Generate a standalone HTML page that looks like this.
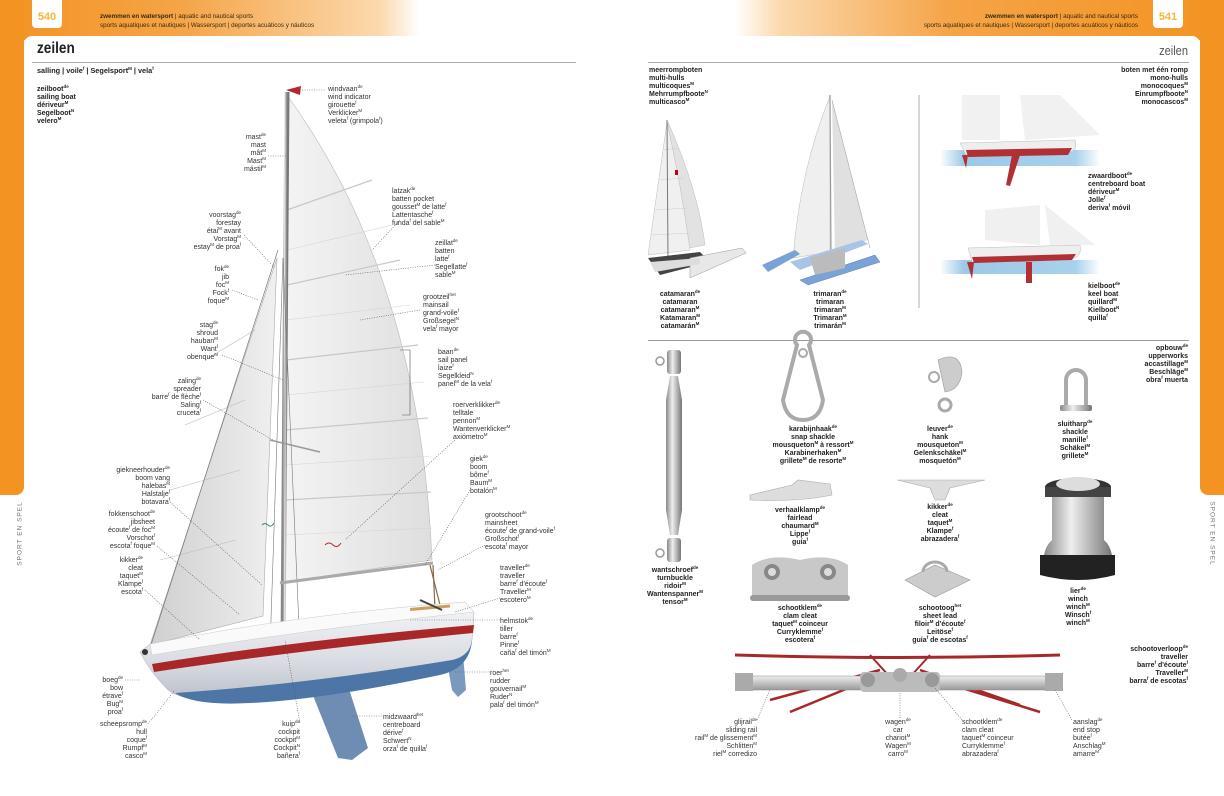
<!DOCTYPE html>
<html><head><meta charset="utf-8">
<style>
*{margin:0;padding:0;box-sizing:border-box}
body{width:1224px;height:783px;position:relative;overflow:hidden;background:#fff;font-family:"Liberation Sans",Arial,sans-serif;color:#333}
.band{position:absolute;left:0;top:0;width:1224px;height:40px;background:linear-gradient(90deg,#f39322 0,#f5a447 180px,#fbd9ad 380px,#fff 420px,#fff 735px,#fbd9ad 780px,#f5a447 950px,#f39322 1224px)}
.side{position:absolute;top:0;width:24px;height:495px;background:#f39322}
.page{position:absolute;left:24px;top:36px;width:1176px;height:760px;background:#fff;border-radius:8px 8px 0 0}
.pn{position:absolute;top:0;width:30px;height:28px;background:#fff;border-radius:0 0 4px 4px;color:#f7b43a;font-weight:bold;font-size:11px;text-align:center;padding-top:11px}
.hd{position:absolute;top:13px;font-size:6.3px;line-height:8.5px;color:#3a2a10}
.l{position:absolute;font-size:7px;line-height:7.9px;color:#333;white-space:nowrap}
.b{font-weight:bold;color:#222}
.r{text-align:right}
.c{text-align:center}
sup{font-size:4.5px;vertical-align:3px;line-height:0}
.vt{position:absolute;font-size:6.5px;color:#777;letter-spacing:1px;white-space:nowrap}
</style></head><body>
<div class="band"></div>
<div class="side" style="left:0;border-radius:0 0 8px 0"></div>
<div class="side" style="left:1200px;border-radius:0 0 0 8px"></div>
<div class="page"></div>
<div class="pn" style="left:32px">540</div>
<div class="pn" style="left:1153px">541</div>
<div class="hd" style="left:100px"><b>zwemmen en watersport</b> | aquatic and nautical sports<br>sports aquatiques et nautiques | Wassersport | deportes acuáticos y náuticos</div>
<div class="hd r" style="right:86px"><b>zwemmen en watersport</b> | aquatic and nautical sports<br>sports aquatiques et nautiques | Wassersport | deportes acuáticos y náuticos</div>
<div class="vt" style="left:-12px;top:530px;transform:rotate(-90deg)">SPORT EN SPEL</div>
<div class="vt" style="left:1180px;top:530px;transform:rotate(90deg)">SPORT EN SPEL</div>

<div style="position:absolute;left:37px;top:40px;font-size:16px;font-weight:bold;color:#222;transform:scaleX(.85);transform-origin:left">zeilen</div>
<div style="position:absolute;right:36px;top:43px;font-size:13px;color:#555;transform:scaleX(.85);transform-origin:right">zeilen</div>
<div style="position:absolute;left:32px;top:62px;width:544px;height:1px;background:#aaa"></div>
<div style="position:absolute;left:648px;top:62px;width:541px;height:1px;background:#aaa"></div>
<div class="l b" style="left:37px;top:67px;font-size:7.3px">salling | voile<sup>f</sup> | Segelsport<sup>M</sup> | vela<sup>f</sup></div>

<svg width="1224" height="783" style="position:absolute;left:0;top:0" xmlns="http://www.w3.org/2000/svg">
<defs>
<linearGradient id="sail" x1="0" x2="1"><stop offset="0" stop-color="#f4f4f4"/><stop offset="1" stop-color="#dedede"/></linearGradient>
<linearGradient id="jib" x1="0" x2="1"><stop offset="0" stop-color="#cfcfcf"/><stop offset="1" stop-color="#f0f0f0"/></linearGradient>
<linearGradient id="hull" x1="0" y1="0" x2="0" y2="1"><stop offset="0" stop-color="#f5f6f8"/><stop offset=".6" stop-color="#d9dce2"/><stop offset="1" stop-color="#b8bec8"/></linearGradient>
<linearGradient id="met" x1="0" x2="1"><stop offset="0" stop-color="#888"/><stop offset=".4" stop-color="#eee"/><stop offset="1" stop-color="#777"/></linearGradient>
<linearGradient id="metv" x1="0" y1="0" x2="0" y2="1"><stop offset="0" stop-color="#eee"/><stop offset="1" stop-color="#999"/></linearGradient>
<linearGradient id="water" x1="0" x2="1"><stop offset="0" stop-color="#9cc8e8" stop-opacity="0"/><stop offset=".15" stop-color="#9cc8e8"/><stop offset=".85" stop-color="#a9d1ee"/><stop offset="1" stop-color="#a9d1ee" stop-opacity="0"/></linearGradient>
</defs>
<!-- main sail -->
<path d="M289 98 Q420 280 432 560 L284 582 Z" fill="url(#sail)" stroke="#bbb" stroke-width=".6"/>
<g stroke="#c8c8c8" stroke-width="1.2">
<line x1="287" y1="210" x2="372" y2="180"/><line x1="287" y1="285" x2="400" y2="260"/><line x1="286" y1="360" x2="418" y2="345"/><line x1="285" y1="430" x2="428" y2="418"/><line x1="285" y1="500" x2="431" y2="492"/>
</g>
<g stroke="#d4d4d4" stroke-width=".6">
<line x1="287" y1="250" x2="392" y2="225"/><line x1="286" y1="320" x2="410" y2="305"/><line x1="286" y1="395" x2="424" y2="382"/><line x1="285" y1="465" x2="430" y2="456"/><line x1="284" y1="535" x2="432" y2="528"/>
</g>
<!-- jib -->
<path d="M277 258 L150 645 L263 616 Z" fill="url(#jib)" stroke="#aaa" stroke-width=".6"/>
<g stroke="#bbb" stroke-width=".6"><line x1="255" y1="330" x2="205" y2="360"/><line x1="245" y1="400" x2="185" y2="425"/><line x1="240" y1="470" x2="170" y2="490"/><line x1="236" y1="540" x2="160" y2="560"/></g>
<!-- mast & rigging -->
<line x1="287" y1="92" x2="283" y2="645" stroke="url(#met)" stroke-width="5"/>
<line x1="287" y1="92" x2="283" y2="645" stroke="#999" stroke-width=".6"/>
<path d="M286 90 L301 86 L300 95 Z" fill="#b8262a"/>
<line x1="278" y1="250" x2="150" y2="648" stroke="#777" stroke-width=".7"/>
<line x1="283" y1="258" x2="270" y2="650" stroke="#777" stroke-width=".6"/>
<line x1="283" y1="258" x2="300" y2="650" stroke="#777" stroke-width=".6"/>
<line x1="270" y1="440" x2="320" y2="452" stroke="#999" stroke-width="1.5"/>
<line x1="280" y1="583" x2="433" y2="563" stroke="#aaa" stroke-width="3"/>
<line x1="430" y1="565" x2="445" y2="625" stroke="#8a6a45" stroke-width="1.2"/>
<line x1="433" y1="565" x2="436" y2="630" stroke="#8a6a45" stroke-width="1.2"/>
<path d="M325 545 q4 -4 8 0 q4 4 8 -2" stroke="#b8262a" fill="none" stroke-width="1"/>
<path d="M262 525 q3 -3 6 0 q3 3 6 -2" stroke="#3a8a5a" fill="none" stroke-width="1"/>
<!-- hull -->
<path d="M310 688 L348 686 L368 748 L352 760 L338 758 Z" fill="#6f8db3"/>
<path d="M444 645 L462 642 L466 690 L458 697 L452 690 Z" fill="#7b98bd"/>
<path d="M140 652 L150 644 Q300 615 465 602 L474 612 L472 640 Q470 660 450 662 Q330 690 260 700 Q190 706 168 690 Q150 672 140 652 Z" fill="url(#hull)" stroke="#aab" stroke-width=".5"/>
<path d="M150 644 Q300 614 465 602 L474 612 Q300 630 152 655 Z" fill="#fafafa" stroke="#ccc" stroke-width=".5"/>
<path d="M152 664 Q300 640 474 625 L473 633 Q300 650 154 672 Z" fill="#a8282a"/>
<path d="M175 693 Q300 685 452 660 Q470 656 472 640 Q470 668 440 675 Q320 700 250 703 Q195 706 175 693 Z" fill="#4d75a6"/>
<rect x="410" y="608" width="40" height="3" fill="#c8a060" transform="rotate(-5 410 608)"/>
<path d="M420 600 l22 10" stroke="#444" stroke-width="2"/>
<circle cx="145" cy="652" r="3" fill="#333"/>
<!-- leader lines -->
<g stroke="#555" stroke-width=".6" stroke-dasharray="1 1.4" fill="none">
<line x1="302" y1="90" x2="326" y2="90"/>
<line x1="268" y1="156" x2="287" y2="156"/>
<line x1="400" y1="220" x2="372" y2="250"/>
<line x1="244" y1="235" x2="275" y2="268"/>
<line x1="435" y1="265" x2="345" y2="275"/>
<line x1="232" y1="290" x2="258" y2="300"/>
<line x1="420" y1="310" x2="360" y2="320"/>
<line x1="222" y1="355" x2="283" y2="380"/>
<line x1="203" y1="400" x2="273" y2="440"/>
<line x1="455" y1="440" x2="345" y2="540"/>
<line x1="170" y1="502" x2="262" y2="585"/>
<line x1="470" y1="490" x2="425" y2="565"/>
<line x1="157" y1="546" x2="240" y2="615"/>
<line x1="485" y1="545" x2="438" y2="570"/>
<line x1="145" y1="590" x2="200" y2="640"/>
<line x1="500" y1="598" x2="455" y2="612"/>
<line x1="410" y1="620" x2="500" y2="620"/>
<line x1="125" y1="680" x2="140" y2="680"/>
<line x1="455" y1="672" x2="490" y2="672"/>
<line x1="148" y1="724" x2="175" y2="690"/>
<line x1="300" y1="723" x2="285" y2="640"/>
<line x1="352" y1="716" x2="382" y2="716"/>
<path d="M400 350 L410 350 L410 415 L402 415" stroke-dasharray="none"/>
</g>

<!-- catamaran -->
<path d="M668 122 Q698 190 705 245 L668 252 Z" fill="#e2e2e2" stroke="#bbb" stroke-width=".5"/>
<path d="M667 122 L648 255 L690 250 Q682 190 667 122Z" fill="#f0f0f0" stroke="#bbb" stroke-width=".5"/>
<g stroke="#ccc" stroke-width=".5"><line x1="664" y1="150" x2="678" y2="148"/><line x1="660" y1="180" x2="683" y2="178"/><line x1="656" y1="210" x2="687" y2="208"/><line x1="652" y1="235" x2="690" y2="233"/></g>
<line x1="667" y1="120" x2="668" y2="258" stroke="#777" stroke-width="1"/>
<path d="M648 258 L700 252 L710 262 L660 275Z" fill="#444"/>
<path d="M690 258 L742 248 L746 253 L690 278 Z" fill="#e8e8e8" stroke="#999" stroke-width=".5"/>
<path d="M650 262 L700 258 L700 264 L655 272Z" fill="#ddd"/>
<rect x="675" y="170" width="3" height="5" fill="#b02"/>
<!-- trimaran -->
<path d="M830 96 Q800 170 793 258 L830 252 Z" fill="#efefef" stroke="#bbb" stroke-width=".5"/>
<path d="M832 100 L868 240 L835 252 Z" fill="#e0e0e0"/>
<line x1="830" y1="95" x2="831" y2="258" stroke="#999" stroke-width="1.2"/>
<line x1="832" y1="100" x2="870" y2="248" stroke="#999" stroke-width=".5"/>
<path d="M762 265 L795 250 L800 254 L768 272Z" fill="#7aa2d6"/>
<path d="M800 280 L875 255 L880 262 L808 285 Z" fill="#7aa2d6" stroke="#5b82b8" stroke-width=".5"/>
<path d="M790 262 L862 240 L868 244 L800 270 Z" fill="#a9c4e6"/>
<path d="M810 258 L845 248 L845 268 L815 275 Z" fill="#bbb"/>
<line x1="919" y1="95" x2="919" y2="308" stroke="#999" stroke-width=".8"/>
<!-- monohulls -->
<rect x="940" y="150" width="160" height="16" fill="url(#water)"/>
<path d="M962 95 L1000 95 L1000 140 L962 140Z M1020 95 L1060 95 L1100 135 L1025 140Z" fill="#eee" opacity=".8"/>
<path d="M960 143 L1075 140 Q1078 150 1070 152 L966 155 Z" fill="#eee" stroke="#bbb" stroke-width=".5"/>
<path d="M966 150 L1072 148 L1068 155 L968 157Z" fill="#b03034"/>
<path d="M962 155 L968 155 L966 168 Z M1012 155 L1020 155 L1010 186 L1006 185 Z" fill="#b03034"/>
<rect x="940" y="260" width="160" height="14" fill="url(#water)"/>
<path d="M985 210 L1040 205 L1040 245 L985 240Z M1045 205 L1095 245 L1050 245Z" fill="#eee" opacity=".9"/>
<path d="M968 248 L1080 245 Q1082 255 1075 258 L972 262 Z" fill="#eee" stroke="#bbb" stroke-width=".5"/>
<path d="M972 257 L1076 254 L1072 260 L974 263Z" fill="#b03034"/>
<path d="M1026 262 L1032 262 L1032 283 L1026 283 Z M967 262 L974 262 L972 279 Z" fill="#b03034"/>
<rect x="648" y="340" width="541" height="1" fill="#999"/>
<!-- turnbuckle -->
<circle cx="660" cy="361" r="4" fill="none" stroke="#999" stroke-width="1.5"/>
<rect x="667" y="350" width="14" height="24" rx="3" fill="url(#met)"/>
<path d="M670 376 L678 376 L682 400 L682 510 L678 535 L670 535 L666 510 L666 400Z" fill="url(#met)"/>
<rect x="667" y="538" width="14" height="24" rx="3" fill="url(#met)"/>
<circle cx="660" cy="553" r="4" fill="none" stroke="#999" stroke-width="1.5"/>
<!-- karabiner -->
<path d="M797 345 a8 8 0 1 1 12 0 L823 400 Q820 420 803 420 Q786 420 783 400 Z" fill="none" stroke="#aaa" stroke-width="4"/>
<circle cx="803" cy="353" r="4" fill="#fff" stroke="#aaa" stroke-width="2"/>
<!-- hank -->
<circle cx="934" cy="377" r="5" fill="none" stroke="#aaa" stroke-width="2"/>
<path d="M938 360 Q960 350 962 372 Q960 390 945 392 Z" fill="#ccc" stroke="#999" stroke-width=".6"/>
<circle cx="945" cy="405" r="6" fill="none" stroke="#aaa" stroke-width="3"/>
<!-- shackle -->
<path d="M1066 405 L1066 380 a10 10 0 0 1 20 0 L1086 405" fill="none" stroke="#aaa" stroke-width="4"/>
<rect x="1060" y="405" width="32" height="6" rx="2" fill="url(#met)"/>
<!-- fairlead -->
<path d="M750 495 L792 485 L798 480 L830 484 L832 495 Q800 502 750 500Z" fill="#ddd" stroke="#aaa" stroke-width=".6"/>
<!-- cleat -->
<path d="M897 480 L985 480 L950 488 L945 500 L935 500 L930 488Z" fill="#ddd" stroke="#aaa" stroke-width=".6"/>
<!-- clam cleat -->
<path d="M752 565 Q770 553 800 560 Q830 553 848 565 L848 595 Q800 602 752 595Z" fill="#c8c8c8"/>
<rect x="750" y="595" width="100" height="6" rx="3" fill="#999"/>
<circle cx="772" cy="572" r="8" fill="#888"/><circle cx="772" cy="572" r="4" fill="#ddd"/>
<circle cx="828" cy="572" r="8" fill="#888"/><circle cx="828" cy="572" r="4" fill="#ddd"/>
<!-- sheet lead -->
<path d="M905 580 L935 565 L970 580 L935 597Z" fill="#ccc" stroke="#999" stroke-width=".6"/>
<path d="M923 572 a12 10 0 0 1 24 0" fill="none" stroke="#aaa" stroke-width="3"/>
<!-- winch -->
<ellipse cx="1078" cy="487" rx="33" ry="9" fill="#333"/>
<rect x="1045" y="487" width="66" height="10" fill="#444"/>
<ellipse cx="1078" cy="484" rx="22" ry="7" fill="#ddd"/>
<path d="M1052 497 L1104 497 L1104 540 Q1110 545 1112 555 L1044 555 Q1046 545 1052 540Z" fill="url(#met)"/>
<path d="M1040 555 L1115 555 L1115 575 Q1078 585 1040 575Z" fill="#222"/>
<!-- traveller -->
<path d="M735 655 Q900 660 1060 655" stroke="#a8282a" stroke-width="3" fill="none"/>
<path d="M770 700 L880 670 M790 712 L880 675 M920 670 L1020 705 M920 675 L1040 712" stroke="#a8282a" stroke-width="2.5"/>
<path d="M870 655 L900 688 M930 655 L900 688" stroke="#a8282a" stroke-width="2"/>
<rect x="737" y="676" width="325" height="14" fill="url(#metv)" stroke="#888" stroke-width=".5"/>
<rect x="735" y="673" width="18" height="18" fill="#aaa"/><rect x="1045" y="673" width="18" height="18" fill="#aaa"/>
<rect x="860" y="672" width="80" height="20" rx="4" fill="#bbb"/>
<circle cx="868" cy="680" r="7" fill="#999"/><circle cx="932" cy="680" r="7" fill="#999"/><circle cx="900" cy="675" r="7" fill="#aaa"/>
<g stroke="#555" stroke-width=".6" stroke-dasharray="1 1.4">
<line x1="757" y1="720" x2="770" y2="690"/><line x1="900" y1="718" x2="900" y2="692"/><line x1="962" y1="720" x2="935" y2="688"/><line x1="1072" y1="720" x2="1055" y2="690"/>
</g>
</svg>

<div class="l b" style="left:37px;top:86px">zeilboot<sup>de</sup><br>sailing boat<br>dériveur<sup>M</sup><br>Segelboot<sup>N</sup><br>velero<sup>M</sup></div>
<div class="l" style="left:328px;top:86px">windvaan<sup>de</sup><br>wind indicator<br>girouette<sup>f</sup><br>Verklicker<sup>M</sup><br>veleta<sup>f</sup> (grimpola<sup>f</sup>)</div>
<div class="l r" style="right:958px;top:134px">mast<sup>de</sup><br>mast<br>mât<sup>M</sup><br>Mast<sup>M</sup><br>mástil<sup>M</sup></div>
<div class="l" style="left:392px;top:188px">latzak<sup>de</sup><br>batten pocket<br>gousset<sup>M</sup> de latte<sup>f</sup><br>Lattentasche<sup>f</sup><br>funda<sup>f</sup> del sable<sup>M</sup></div>
<div class="l r" style="right:983px;top:212px">voorstag<sup>de</sup><br>forestay<br>étai<sup>M</sup> avant<br>Vorstag<sup>M</sup><br>estay<sup>M</sup> de proa<sup>f</sup></div>
<div class="l" style="left:435px;top:240px">zeillat<sup>de</sup><br>batten<br>latte<sup>f</sup><br>Segellatte<sup>f</sup><br>sable<sup>M</sup></div>
<div class="l r" style="right:995px;top:266px">fok<sup>de</sup><br>jib<br>foc<sup>M</sup><br>Fock<sup>f</sup><br>foque<sup>M</sup></div>
<div class="l" style="left:423px;top:294px">grootzeil<sup>het</sup><br>mainsail<br>grand-voile<sup>f</sup><br>Großsegel<sup>N</sup><br>vela<sup>f</sup> mayor</div>
<div class="l r" style="right:1006px;top:322px">stag<sup>de</sup><br>shroud<br>hauban<sup>M</sup><br>Want<sup>f</sup><br>obenque<sup>M</sup></div>
<div class="l" style="left:438px;top:349px">baan<sup>de</sup><br>sail panel<br>laize<sup>f</sup><br>Segelkleid<sup>N</sup><br>panel<sup>M</sup> de la vela<sup>f</sup></div>
<div class="l r" style="right:1023px;top:378px">zaling<sup>de</sup><br>spreader<br>barre<sup>f</sup> de flèche<sup>f</sup><br>Saling<sup>f</sup><br>cruceta<sup>f</sup></div>
<div class="l" style="left:453px;top:402px">roerverklikker<sup>de</sup><br>telltale<br>pennon<sup>M</sup><br>Wantenverklicker<sup>M</sup><br>axiómetro<sup>M</sup></div>
<div class="l r" style="right:1054px;top:467px">giekneerhouder<sup>de</sup><br>boom vang<br>halebas<sup>M</sup><br>Halstalje<sup>f</sup><br>botavara<sup>f</sup></div>
<div class="l" style="left:470px;top:456px">giek<sup>de</sup><br>boom<br>bôme<sup>f</sup><br>Baum<sup>M</sup><br>botalón<sup>M</sup></div>
<div class="l r" style="right:1069px;top:511px">fokkenschoot<sup>de</sup><br>jibsheet<br>écoute<sup>f</sup> de foc<sup>M</sup><br>Vorschot<sup>f</sup><br>escota<sup>f</sup> foque<sup>M</sup></div>
<div class="l" style="left:485px;top:512px">grootschoot<sup>de</sup><br>mainsheet<br>écoute<sup>f</sup> de grand-voile<sup>f</sup><br>Großschot<sup>f</sup><br>escota<sup>f</sup> mayor</div>
<div class="l r" style="right:1081px;top:557px">kikker<sup>de</sup><br>cleat<br>taquet<sup>M</sup><br>Klampe<sup>f</sup><br>escota<sup>f</sup></div>
<div class="l" style="left:500px;top:565px">traveller<sup>de</sup><br>traveller<br>barre<sup>f</sup> d'écoute<sup>f</sup><br>Traveller<sup>M</sup><br>escotero<sup>M</sup></div>
<div class="l" style="left:500px;top:618px">helmstok<sup>de</sup><br>tiller<br>barre<sup>f</sup><br>Pinne<sup>f</sup><br>caña<sup>f</sup> del timón<sup>M</sup></div>
<div class="l r" style="right:1101px;top:677px">boeg<sup>de</sup><br>bow<br>étrave<sup>f</sup><br>Bug<sup>M</sup><br>proa<sup>f</sup></div>
<div class="l" style="left:490px;top:670px">roer<sup>het</sup><br>rudder<br>gouvernail<sup>M</sup><br>Ruder<sup>N</sup><br>pala<sup>f</sup> del timón<sup>M</sup></div>
<div class="l r" style="right:1077px;top:721px">scheepsromp<sup>de</sup><br>hull<br>coque<sup>f</sup><br>Rumpf<sup>M</sup><br>casco<sup>M</sup></div>
<div class="l r" style="right:924px;top:721px">kuip<sup>de</sup><br>cockpit<br>cockpit<sup>M</sup><br>Cockpit<sup>N</sup><br>bañera<sup>f</sup></div>
<div class="l" style="left:383px;top:714px">midzwaard<sup>het</sup><br>centreboard<br>dérive<sup>f</sup><br>Schwert<sup>N</sup><br>orza<sup>f</sup> de quilla<sup>f</sup></div>

<div class="l b" style="left:649px;top:67px">meerrompboten<br>multi-hulls<br>multicoques<sup>M</sup><br>Mehrrumpfboote<sup>N</sup><br>multicasco<sup>M</sup></div>
<div class="l b r" style="right:36px;top:67px">boten met één romp<br>mono-hulls<br>monocoques<sup>M</sup><br>Einrumpfboote<sup>N</sup><br>monocascos<sup>M</sup></div>
<div class="l b c" style="left:645px;width:70px;top:291px">catamaran<sup>de</sup><br>catamaran<br>catamaran<sup>M</sup><br>Katamaran<sup>M</sup><br>catamarán<sup>M</sup></div>
<div class="l b c" style="left:795px;width:70px;top:291px">trimaran<sup>de</sup><br>trimaran<br>trimaran<sup>M</sup><br>Trimaran<sup>M</sup><br>trimarán<sup>M</sup></div>
<div class="l b" style="left:1088px;top:173px">zwaardboot<sup>de</sup><br>centreboard boat<br>dériveur<sup>M</sup><br>Jolle<sup>f</sup><br>deriva<sup>f</sup> móvil</div>
<div class="l b" style="left:1088px;top:283px">kielboot<sup>de</sup><br>keel boat<br>quillard<sup>M</sup><br>Kielboot<sup>N</sup><br>quilla<sup>f</sup></div>
<div class="l b r" style="right:36px;top:345px">opbouw<sup>de</sup><br>upperworks<br>accastillage<sup>M</sup><br>Beschläge<sup>M</sup><br>obra<sup>f</sup> muerta</div>
<div class="l b c" style="left:635px;width:80px;top:567px">wantschroef<sup>de</sup><br>turnbuckle<br>ridoir<sup>M</sup><br>Wantenspanner<sup>M</sup><br>tensor<sup>M</sup></div>
<div class="l b c" style="left:753px;width:120px;top:426px">karabijnhaak<sup>de</sup><br>snap shackle<br>mousqueton<sup>M</sup> à ressort<sup>M</sup><br>Karabinerhaken<sup>M</sup><br>grillete<sup>M</sup> de resorte<sup>M</sup></div>
<div class="l b c" style="left:895px;width:90px;top:426px">leuver<sup>de</sup><br>hank<br>mousqueton<sup>M</sup><br>Gelenkschäkel<sup>M</sup><br>mosquetón<sup>M</sup></div>
<div class="l b c" style="left:1040px;width:70px;top:421px">sluitharp<sup>de</sup><br>shackle<br>manille<sup>f</sup><br>Schäkel<sup>M</sup><br>grillete<sup>M</sup></div>
<div class="l b c" style="left:760px;width:80px;top:507px">verhaalklamp<sup>de</sup><br>fairlead<br>chaumard<sup>M</sup><br>Lippe<sup>f</sup><br>guía<sup>f</sup></div>
<div class="l b c" style="left:900px;width:80px;top:504px">kikker<sup>de</sup><br>cleat<br>taquet<sup>M</sup><br>Klampe<sup>f</sup><br>abrazadera<sup>f</sup></div>
<div class="l b c" style="left:750px;width:100px;top:605px">schootklem<sup>de</sup><br>clam cleat<br>taquet<sup>M</sup> coinceur<br>Curryklemme<sup>f</sup><br>escotera<sup>f</sup></div>
<div class="l b c" style="left:890px;width:100px;top:605px">schootoog<sup>het</sup><br>sheet lead<br>filoir<sup>M</sup> d'écoute<sup>f</sup><br>Leitöse<sup>f</sup><br>guía<sup>f</sup> de escotas<sup>f</sup></div>
<div class="l b c" style="left:1048px;width:60px;top:588px">lier<sup>de</sup><br>winch<br>winch<sup>M</sup><br>Winsch<sup>f</sup><br>winch<sup>M</sup></div>
<div class="l b r" style="right:36px;top:646px">schootoverloop<sup>de</sup><br>traveller<br>barre<sup>f</sup> d'écoute<sup>f</sup><br>Traveller<sup>M</sup><br>barra<sup>f</sup> de escotas<sup>f</sup></div>
<div class="l r" style="right:467px;top:719px">glijrail<sup>de</sup><br>sliding rail<br>rail<sup>M</sup> de glissement<sup>M</sup><br>Schlitten<sup>M</sup><br>riel<sup>M</sup> corredizo</div>
<div class="l c" style="left:868px;width:60px;top:719px">wagen<sup>de</sup><br>car<br>chariot<sup>M</sup><br>Wagen<sup>M</sup><br>carro<sup>M</sup></div>
<div class="l" style="left:962px;top:719px">schootklem<sup>de</sup><br>clam cleat<br>taquet<sup>M</sup> coinceur<br>Curryklemme<sup>f</sup><br>abrazadera<sup>f</sup></div>
<div class="l" style="left:1073px;top:719px">aanslag<sup>de</sup><br>end stop<br>butée<sup>f</sup><br>Anschlag<sup>M</sup><br>amarre<sup>M</sup></div>
</body></html>
